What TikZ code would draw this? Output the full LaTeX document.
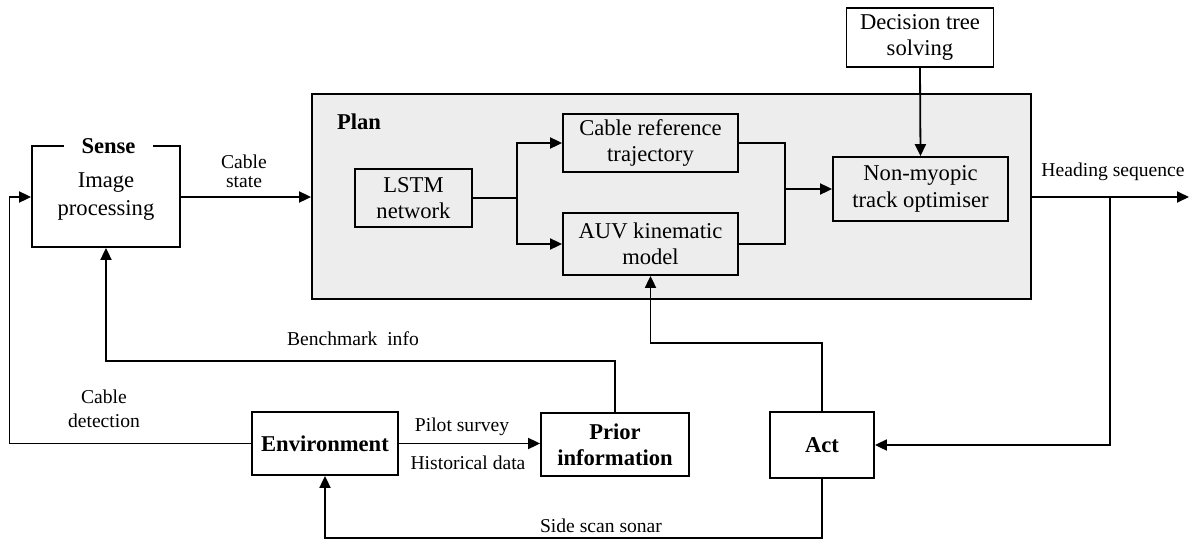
\documentclass[tikz,border=0pt]{standalone}
\usepackage{fontspec}
\setmainfont{Liberation Serif}
\usetikzlibrary{arrows.meta}
\definecolor{planfill}{RGB}{237,237,237}
\begin{document}
\begin{tikzpicture}[x=0.5pt,y=-0.5pt,
  line width=0.9pt,
  >={Triangle[length=6pt,width=5.5pt]},
  box/.style={draw, inner sep=0pt, align=center, font=\fontsize{11.3}{13.2}\selectfont},
  bbox/.style={box, font=\fontsize{11.3}{13.2}\selectfont\bfseries},
  lbl/.style={inner sep=0pt, align=center, font=\fontsize{9.8}{12}\selectfont},
]
\useasboundingbox (0,0) rectangle (1190,541);
% Plan container
\node[draw, fill=planfill, minimum width=359.5pt, minimum height=102.5pt, inner sep=0pt] (plan) at (671.5,196.5) {};
\node[inner sep=0pt, font=\fontsize{11.3}{13.2}\selectfont\bfseries] (planlbl) at (359,122) {Plan};
% Sense
\node[box, minimum width=74pt, minimum height=50.5pt, font=\fontsize{11.3}{14}\selectfont] (sense) at (106,196.5) {Image\\processing};
\node[fill=white, inner sep=0pt, minimum width=44.5pt, minimum height=6pt, font=\fontsize{11.3}{13.2}\selectfont\bfseries] (senselbl) at (108.5,146) {Sense};
% Plan contents
\node[box, fill=planfill, minimum width=58.5pt, minimum height=29pt] (lstm) at (413.5,198) {LSTM\\network};
\node[box, fill=planfill, minimum width=87.5pt, minimum height=29pt] (cref) at (650.5,143) {Cable reference\\trajectory};
\node[box, fill=planfill, minimum width=87.5pt, minimum height=31pt] (auv) at (650.5,244) {AUV kinematic\\model};
\node[box, fill=planfill, minimum width=87.5pt, minimum height=32pt] (nmt) at (920.5,189) {Non-myopic\\track optimiser};
\node[box, minimum width=73.5pt, minimum height=29.5pt] (dts) at (920,37.5) {Decision tree\\solving};
% Bottom boxes
\node[bbox, minimum width=73pt, minimum height=31.5pt] (env) at (325,443.5) {Environment};
\node[bbox, minimum width=74pt, minimum height=31.5pt] (prior) at (615,444.5) {Prior\\information};
\node[bbox, minimum width=52pt, minimum height=33pt] (act) at (822,445) {Act};
% coordinates
\coordinate (j1) at (517,198);
\coordinate (j2) at (785,189);
\coordinate (outend) at (1189,197);
\coordinate (br) at (1110,197);
% connectors
\draw[->] (sense.east |- 0,197) -- (plan.west |- 0,197);
\draw (lstm.east) -- (j1);
\draw[->] (j1) |- (cref.west);
\draw[->] (j1) |- (auv.west);
\draw (cref.east) -| (j2);
\draw (auv.east) -| (j2);
\draw[->] (j2) -- (nmt.west);
\draw[->] (dts.south) -- (nmt.north);
\draw[->] (plan.east |- outend) -- (outend);
\draw[->] (br) |- (act.east);
\draw[->] (act.north) -- (822,343) -| (auv.south);
\draw[->] (act.south) -- (822,538) -| (env.south);
\draw[->] (env.west) -- (9.5,443.5) |- (sense.west |- 0,197);
\draw[->] (env.east) -- (prior.west |- env.east);
\draw[->] (prior.north) -- (615,361) -| (sense.south);
% labels
\node[lbl, font=\fontsize{9.8}{9.5}\selectfont] (lcs) at (244,171) {Cable\\state};
\node[lbl] (lhs) at (1113,172) {Heading sequence};
\node[lbl] (lbi) at (353,339) {Benchmark\enspace info};
\node[lbl] (lcd) at (104,409) {Cable\\detection};
\node[lbl] (lps) at (462,427) {Pilot survey};
\node[lbl] (lhd) at (468,463) {Historical data};
\node[lbl] (lss) at (601,526) {Side scan sonar};
\end{tikzpicture}
\end{document}
